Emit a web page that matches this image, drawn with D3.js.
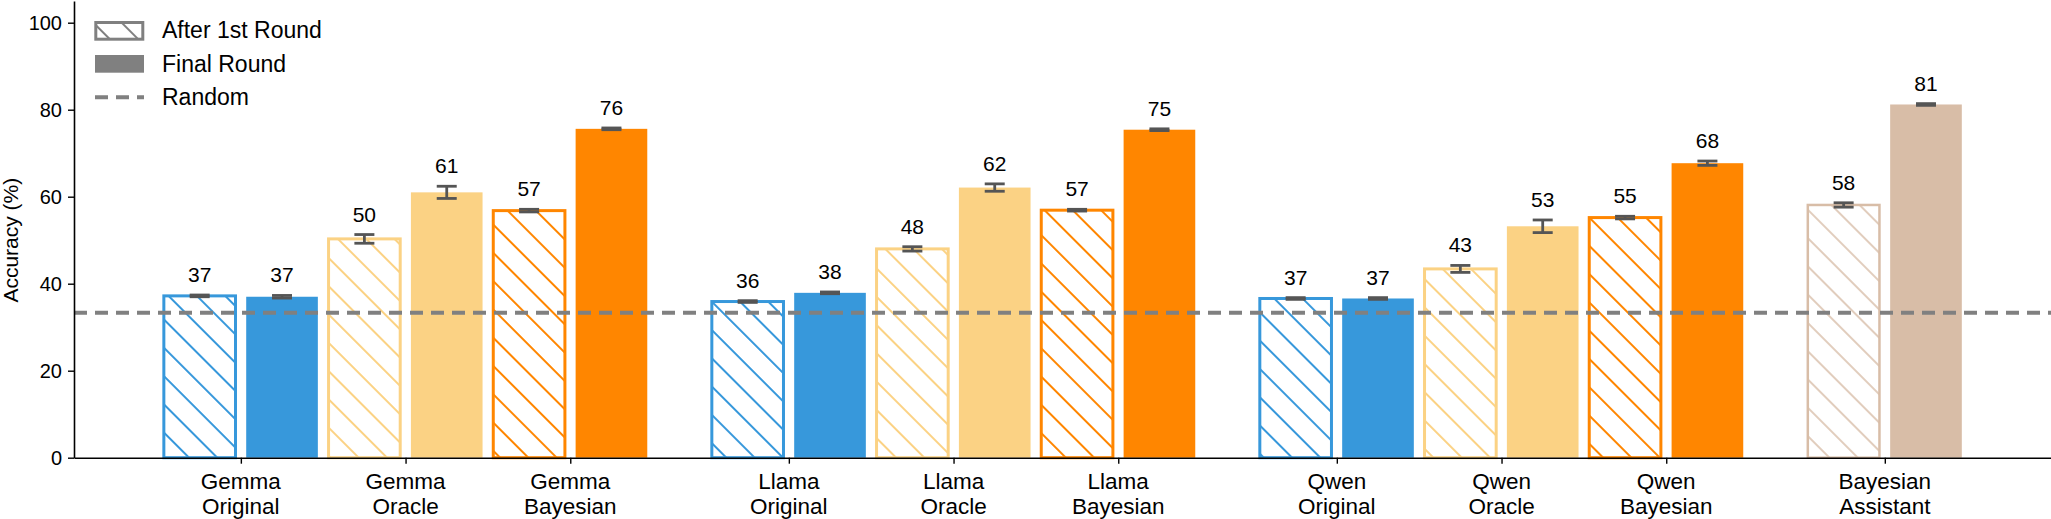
<!DOCTYPE html>
<html>
<head>
<meta charset="utf-8">
<script src="https://cdn.jsdelivr.net/npm/d3@7"></script>
<style>
    body { margin: 0; background: #fff; }
    svg { display: block; font-family: "Liberation Sans", Arial, Helvetica, sans-serif; }
</style>
</head>
<body>
<div id="chart"></div>
<script>
// values
const categories = ["Gemma Original", "Gemma Oracle", "Gemma Bayesian",
    "Llama Original", "Llama Oracle", "Llama Bayesian",
    "Qwen Original", "Qwen Oracle", "Qwen Bayesian",
    "Bayesian Assistant"];
const groups = [0, 0, 0, 1, 1, 1, 2, 2, 2, 3];
const methods = ["Original", "Oracle", "Bayesian", "Original", "Oracle", "Bayesian",
    "Original", "Oracle", "Bayesian", "Assistant"];
const first_round = [37.2, 50.3, 56.8, 35.9, 48.0, 56.9, 36.6, 43.4, 55.2, 58.1];
const first_round_err = [0.2, 1.0, 0.3, 0.2, 0.5, 0.2, 0.2, 0.8, 0.3, 0.5];
const final_round = [37.0, 61.0, 75.6, 37.9, 62.1, 75.4, 36.6, 53.2, 67.7, 81.2];
const final_round_err = [0.3, 1.4, 0.2, 0.2, 0.85, 0.2, 0.2, 1.45, 0.5, 0.2];
const random_level = 100 / 3;
const y_ticks = [0, 20, 40, 60, 80, 100];

const color = d3.scaleOrdinal()
    .domain(["Original", "Oracle", "Bayesian", "Assistant"])
    .range(["#3798db", "#fbd284", "#ff8600", "#d8bda7"]);

const W = 2051, H = 519;
const svg = d3.select("#chart").append("svg")
    .attr("width", W)
    .attr("height", H);

const x = d3.scaleLinear().domain([-1.013, 10.99]).range([74, 2051]);
const y = d3.scaleLinear().domain([0, 105]).range([457.7, 0.95]);
const unit = x(1) - x(0);
const bw = 0.435 * unit;
const pos = (d, i) => i + groups[i] * 0.327;

// hatch patterns
const defs = svg.append("defs");
color.domain().concat(["legend"]).forEach(m => {
    const c = m === "legend" ? "#808080" : color(m);
    const p = defs.append("pattern")
        .attr("id", "hatch-" + m)
        .attr("patternUnits", "userSpaceOnUse")
        .attr("width", 20)
        .attr("height", 20)
        .attr("patternTransform", "rotate(-45)");
    p.append("rect").attr("width", 20).attr("height", 20).attr("fill", "#fff");
    p.append("line")
        .attr("x1", 10).attr("x2", 10)
        .attr("y1", 0).attr("y2", 20)
        .attr("stroke", c)
        .attr("stroke-width", m === "Assistant" ? 1.5 : 2);
});

const data = categories.map((c, i) => ({
    name: c, method: methods[i], p: pos(c, i),
    first: first_round[i], first_err: first_round_err[i],
    final: final_round[i], final_err: final_round_err[i]
}));

// bars
svg.selectAll(".bar-first")
    .data(data)
    .enter().append("rect")
    .attr("class", "bar-first")
    .attr("x", d => x(d.p) - 0.25 * unit - bw / 2)
    .attr("y", d => y(d.first))
    .attr("width", bw)
    .attr("height", d => y(0) - y(d.first))
    .attr("fill", d => `url(#hatch-${d.method})`)
    .attr("stroke", d => color(d.method))
    .attr("stroke-width", d => d.method === "Assistant" ? 2.5 : 3);

svg.selectAll(".bar-final")
    .data(data)
    .enter().append("rect")
    .attr("class", "bar-final")
    .attr("x", d => x(d.p) + 0.25 * unit - bw / 2)
    .attr("y", d => y(d.final))
    .attr("width", bw)
    .attr("height", d => y(0) - y(d.final))
    .attr("fill", d => color(d.method));

// error bars + labels
const bars = [];
data.forEach(d => {
    bars.push({ cx: x(d.p) - 0.25 * unit, v: d.first, e: d.first_err });
    bars.push({ cx: x(d.p) + 0.25 * unit, v: d.final, e: d.final_err });
});
const err = svg.append("g").attr("stroke", "#555").attr("stroke-width", 2.8);
bars.forEach(b => {
    err.append("line")
        .attr("x1", b.cx).attr("x2", b.cx)
        .attr("y1", y(b.v - b.e)).attr("y2", y(b.v + b.e));
    [b.v - b.e, b.v + b.e].forEach(v => {
        err.append("line")
            .attr("x1", b.cx - 10).attr("x2", b.cx + 10)
            .attr("y1", y(v)).attr("y2", y(v));
    });
});
svg.selectAll(".val")
    .data(bars)
    .enter().append("text")
    .attr("class", "val")
    .attr("x", d => d.cx)
    .attr("y", d => y(d.v + d.e) - 13)
    .attr("text-anchor", "middle")
    .style("font-size", "21px")
    .style("fill", "#000")
    .text(d => Math.round(d.v));

// random baseline
svg.append("line")
    .attr("x1", x.range()[0]).attr("x2", x.range()[1])
    .attr("y1", y(random_level)).attr("y2", y(random_level))
    .attr("stroke", "#808080")
    .attr("stroke-width", 4)
    .attr("stroke-dasharray", "13,8");

// axes
const yAxis = svg.append("g")
    .attr("transform", `translate(${x.range()[0]},0)`)
    .call(d3.axisLeft(y).tickValues(y_ticks).tickSize(6).tickPadding(6).tickSizeOuter(0));
yAxis.select(".domain").attr("stroke-width", 1.6);
yAxis.selectAll(".tick line").attr("stroke-width", 1.4);
yAxis.selectAll("text").style("font-size", "20px").style("font-family", "Liberation Sans, Arial, sans-serif");

const xAxis = svg.append("g")
    .attr("transform", `translate(0,${y(0)})`)
    .call(d3.axisBottom(x).tickValues(data.map(d => d.p)).tickSize(6).tickFormat("").tickSizeOuter(0));
xAxis.select(".domain").attr("stroke-width", 1.6);
xAxis.selectAll(".tick line").attr("stroke-width", 1.4);

svg.selectAll(".xlab")
    .data(data)
    .enter().append("text")
    .attr("class", "xlab")
    .attr("x", d => x(d.p))
    .attr("y", 488.5)
    .attr("text-anchor", "middle")
    .style("font-size", "22.5px")
    .each(function (d) {
        const parts = d.name.split(" ");
        d3.select(this).append("tspan").attr("x", x(d.p)).text(parts[0]);
        d3.select(this).append("tspan").attr("x", x(d.p)).attr("dy", 25).text(parts[1]);
    });

svg.append("text")
    .attr("transform", `translate(18,${(y(0) + y(100)) / 2}) rotate(-90)`)
    .attr("text-anchor", "middle")
    .style("font-size", "21px")
    .text("Accuracy (%)");

// legend
const lg = svg.append("g");
lg.append("rect")
    .attr("x", 95.8).attr("y", 22.5).attr("width", 47).attr("height", 16.7)
    .attr("fill", "url(#hatch-legend)")
    .attr("stroke", "#808080").attr("stroke-width", 3);
lg.append("rect")
    .attr("x", 95).attr("y", 55).attr("width", 49).attr("height", 17.7)
    .attr("fill", "#808080");
lg.append("line")
    .attr("x1", 95).attr("x2", 144).attr("y1", 97.3).attr("y2", 97.3)
    .attr("stroke", "#808080").attr("stroke-width", 4)
    .attr("stroke-dasharray", "13,8");
[["After 1st Round", 37.5], ["Final Round", 71.7], ["Random", 105]].forEach(([t, yy]) => {
    lg.append("text").attr("x", 162).attr("y", yy)
        .style("font-size", "23px").text(t);
});
</script>
</body>
</html>
